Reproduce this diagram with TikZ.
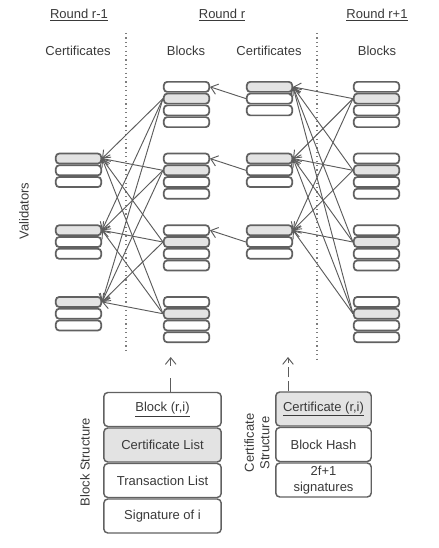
\documentclass[tikz,border=0pt]{standalone}
\usepackage{fontspec}
\setmainfont{Liberation Sans}
\usetikzlibrary{arrows.meta}
\definecolor{boxc}{HTML}{616161}
\definecolor{fillc}{HTML}{E3E3E3}
\definecolor{linec}{HTML}{5C5C5C}
\definecolor{textc}{HTML}{3A3A3A}
\begin{document}
\begin{tikzpicture}[x=0.75pt,y=-0.75pt,
  font=\fontsize{9.75}{11.5}\selectfont, text=textc,
  cell/.style={draw=boxc, line width=1.3pt, rounded corners=2.5pt,
    minimum width=34pt, minimum height=7.5pt, inner sep=0pt, fill=white},
  link/.style={draw=linec, line width=0.7pt, -{Straight Barb[length=5pt,width=8pt]}},
  sep/.style={draw=linec!80, line width=0.8pt, dash pattern=on 0.9pt off 2.4pt},
  big/.style={draw=boxc, line width=1.1pt, rounded corners=3pt,
    minimum height=25.5pt, inner sep=0pt, fill=white, align=center},
  bigb/.style={big, minimum width=88pt},
  bigc/.style={big, minimum width=71.6pt},
  hdr/.style={inner sep=0pt}]
\useasboundingbox (0,0) rectangle (438,548);

% headers
\node[hdr] (h1) at (79,15) {\underline{Round r-1}};
\node[hdr] (h2) at (222,15) {\underline{Round r}};
\node[hdr] (h3) at (377,15) {\underline{Round r+1}};
\node[hdr] (s1) at (78,51) {Certificates};
\node[hdr] (s2) at (186,51) {Blocks};
\node[hdr] (s3) at (269,51) {Certificates};
\node[hdr] (s4) at (377,51) {Blocks};
\node[hdr, rotate=90] (val) at (24,211) {Validators};

% separators
\coordinate (d1a) at (126,33);
\coordinate (d1b) at (126,353);
\coordinate (d2a) at (317,33);
\coordinate (d2b) at (317,361);
\draw[sep] (d1a) -- (d1b);
\draw[sep] (d2a) -- (d2b);

% blocks of round r and r+1
\foreach \k/\t in {1/81,2/152.7,3/224.4,4/296.1} {
  \foreach \j in {1,2,3,4} {
    \pgfmathsetmacro\yy{\t+(\j-0.5)*11.75}
    \ifnum\j=2 \def\fc{fillc}\else\def\fc{white}\fi
    \node[cell, fill=\fc] (BR-\k-\j) at (186.5,\yy) {};
    \node[cell, fill=\fc] (BN-\k-\j) at (376.5,\yy) {};
  }
}
% certificates of round r-1
\foreach \k/\t in {2/152.7,3/224.4,4/296.1} {
  \foreach \j in {1,2,3} {
    \pgfmathsetmacro\yy{\t+(\j-0.5)*11.75}
    \ifnum\j=1 \def\fc{fillc}\else\def\fc{white}\fi
    \node[cell, fill=\fc] (CP-\k-\j) at (78.5,\yy) {};
  }
}
% certificates of round r
\foreach \k/\t in {1/81,2/152.7,3/224.4} {
  \foreach \j in {1,2,3} {
    \pgfmathsetmacro\yy{\t+(\j-0.5)*11.75}
    \ifnum\j=1 \def\fc{fillc}\else\def\fc{white}\fi
    \node[cell, fill=\fc] (CR-\k-\j) at (269.5,\yy) {};
  }
}

% links
\foreach \k in {1,2,3,4} {
  \foreach \m in {2,3,4} {
    \draw[link] (BR-\k-2.west) -- (CP-\m-1.east);
  }
  \foreach \m in {1,2,3} {
    \draw[link] (BN-\k-2.west) -- (CR-\m-1.east);
  }
}
\foreach \m in {1,2,3} {
  \draw[link] (CR-\m-2.west) -- (BR-\m-1.east);
}

% block structure
\node[bigb] (bs1) at (162.5,409.5) {\underline{Block (r,i)}};
\node[bigb, fill=fillc] (bs2) at (162.5,445) {Certificate List};
\node[bigb] (bs3) at (162.5,480.5) {Transaction List};
\node[bigb] (bs4) at (162.5,516) {Signature of i};
\node[hdr, rotate=90] (bsl) at (85,462) {Block Structure};

% certificate structure
\node[bigc, fill=fillc] (cs1) at (323.5,409) {\underline{Certificate (r,i)}};
\node[bigc] (cs2) at (323.5,444.5) {Block Hash};
\node[bigc] (cs3) at (323.5,480) {2f+1\\signatures};
\node[hdr, rotate=90, align=center] (csl) at (257,443) {Certificate\\Structure};

% pointers up
\coordinate (bt) at (170.7,357);
\coordinate (ct) at (288,357);
\draw[link, dash pattern=on 10.5pt off 9pt] (bt |- bs1.north) -- (bt);
\draw[link, dash pattern=on 7.5pt off 3pt] (ct |- cs1.north) -- (ct);
\end{tikzpicture}
\end{document}
